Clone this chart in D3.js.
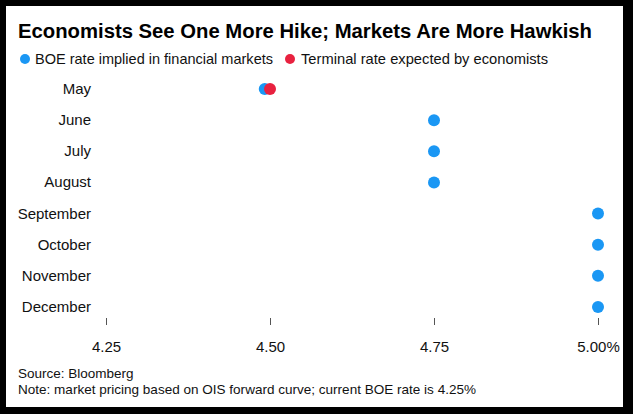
<!DOCTYPE html>
<html>
<head>
<meta charset="utf-8">
<script src="https://cdn.jsdelivr.net/npm/d3@7"></script>
<style>
  body { margin: 0; background: #000; }
  svg { display: block; font-family: "Liberation Sans", Arial, sans-serif; }
</style>
</head>
<body>
<svg id="svg1" width="633" height="414"></svg>
<script>
var months = ['May', 'June', 'July', 'August', 'September', 'October', 'November', 'December'];
var marketRate = [4.492, 4.75, 4.75, 4.75, 5.00, 5.00, 5.00, 5.00];
var economistMonths = ['May'];
var economistRate = [4.50];
var tickValues = [4.25, 4.50, 4.75, 5.00];
var tickLabels = ['4.25', '4.50', '4.75', '5.00%'];

var blue = '#1a97f4';
var red = '#e8213f';

var svg = d3.select('#svg1');

// black frame
svg.append('rect').attr('width', 633).attr('height', 414).attr('fill', '#000');
svg.append('rect').attr('x', 6).attr('y', 6).attr('width', 617).attr('height', 401).attr('fill', '#fff');

var x = d3.scaleLinear()
    .domain([4.25, 5.00])
    .range([106, 598]);

var y = d3.scalePoint()
    .domain(months)
    .range([89, 307]);

// fit text to a measured width
function fit(sel, w) {
    sel.attr('textLength', w).attr('lengthAdjust', 'spacingAndGlyphs');
}

svg.append('text')
    .attr('x', 18).attr('y', 38)
    .attr('font-size', 20).attr('font-weight', 'bold').attr('fill', '#000')
    .text('Economists See One More Hike; Markets Are More Hawkish')
    .call(fit, 574);

// legend
var legend = [
    {label: 'BOE rate implied in financial markets', color: blue, cx: 25, tx: 35, w: 238},
    {label: 'Terminal rate expected by economists', color: red, cx: 290, tx: 301, w: 247}
];
var lg = svg.selectAll('.legend')
    .data(legend)
    .enter()
    .append('g')
    .attr('class', 'legend');
lg.append('circle')
    .attr('cx', function (d) {return d.cx})
    .attr('cy', 59)
    .attr('r', 5)
    .attr('fill', function (d) {return d.color});
lg.append('text')
    .attr('x', function (d) {return d.tx})
    .attr('y', 64)
    .attr('font-size', 15)
    .attr('fill', '#111')
    .text(function (d) {return d.label})
    .each(function (d) {d3.select(this).call(fit, d.w)});

// month labels
svg.selectAll('.month')
    .data(months)
    .enter()
    .append('text')
    .attr('class', 'month')
    .attr('x', 91)
    .attr('y', function (d) {return y(d) + 5})
    .attr('text-anchor', 'end')
    .attr('font-size', 15)
    .attr('fill', '#111')
    .text(function (d) {return d});

// x axis
var axis = d3.axisBottom(x)
    .tickValues(tickValues)
    .tickSize(7)
    .tickPadding(16)
    .tickFormat(function (d, i) {return tickLabels[i]});

var ax = svg.append('g')
    .attr('transform', 'translate(0,318)')
    .call(axis);
ax.select('.domain').remove();
ax.selectAll('.tick line').attr('stroke', '#555');
ax.selectAll('.tick text')
    .attr('font-size', 15)
    .attr('font-family', '"Liberation Sans", Arial, sans-serif')
    .attr('fill', '#111');

// dots
svg.selectAll('.market')
    .data(months)
    .enter()
    .append('circle')
    .attr('class', 'market')
    .attr('cx', function (d, i) {return x(marketRate[i])})
    .attr('cy', function (d) {return y(d)})
    .attr('r', 6)
    .attr('fill', blue);

svg.selectAll('.econ')
    .data(economistMonths)
    .enter()
    .append('circle')
    .attr('class', 'econ')
    .attr('cx', function (d, i) {return x(economistRate[i])})
    .attr('cy', function (d) {return y(d)})
    .attr('r', 6)
    .attr('fill', red);

// footer
svg.append('text')
    .attr('x', 18).attr('y', 378)
    .attr('font-size', 13.5).attr('fill', '#111')
    .text('Source: Bloomberg');
svg.append('text')
    .attr('x', 18).attr('y', 394)
    .attr('font-size', 13.5).attr('fill', '#111')
    .text('Note: market pricing based on OIS forward curve; current BOE rate is 4.25%')
    .call(fit, 458);
</script>
</body>
</html>
